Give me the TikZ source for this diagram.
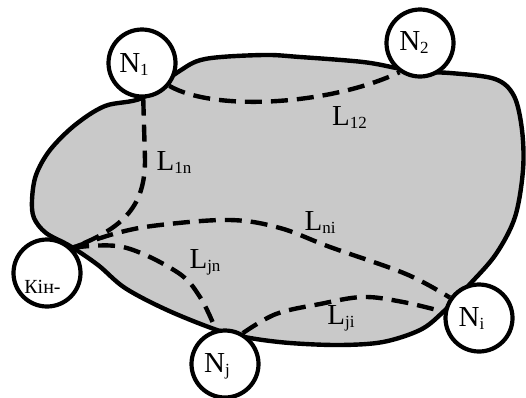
\documentclass[tikz,border=0pt]{standalone}
\usepackage{fontspec}
\setmainfont{Liberation Serif}
\newcommand{\sbs}[1]{\raisebox{-0.12em}{\fontsize{17}{17}\selectfont #1}}
\tikzset{
  nodecirc/.style={circle, draw=black, line width=4.2pt, fill=white, minimum size=67pt, inner sep=0pt},
  lbl/.style={anchor=base, inner sep=0pt, font=\fontsize{29}{29}\selectfont},
  conn/.style={line width=4.4pt, dash pattern=on 17pt off 9pt},
  region/.style={line width=4.4pt, fill=black!21, draw=black}
}
\begin{document}
\begin{tikzpicture}[x=1pt,y=-1pt]
\useasboundingbox (0,0) rectangle (526,397);
% region
\draw[region] plot[smooth cycle, tension=0.55] coordinates {
 (142,98) (105,106) (75,125) (50,150) (36,175) (32,200) (34,218) (46,233) (70,246)
 (98,265) (125,288) (167,310) (217,330) (250,338) (290,343) (340,345) (383,342)
 (420,330) (442,313) (470,284) (496,254) (515,217) (523,170) (522,130) (514,96)
 (495,79) (450,73) (416,72) (396,68) (363,62) (300,57) (263,55) (205,59) (178,72)};
% circles
\node[nodecirc] (N1) at (142,63) {};
\node[nodecirc] (N2) at (420,43) {};
\node[nodecirc] (K) at (47,273) {};
\node[nodecirc] (Nj) at (225,364) {};
\node[nodecirc] (Ni) at (479,318) {};
% connectors
\draw[conn] (N1.-40) .. controls (215,112) and (330,105) .. (N2.-125);
\draw[conn] (N1.-88) -- (145,160) .. controls (145,205) and (125,228) .. (K.45);
\draw[conn] plot[smooth, tension=0.6] coordinates {(K.45) (117,233) (160,225) (230,220) (280,228) (330,247) (406,274) (Ni.145)};
\draw[conn] plot[smooth, tension=0.6] coordinates {(K.45) (123,247) (177,272) (200,297) (Nj.105)};
\draw[conn] plot[smooth, tension=0.6] coordinates {(Nj.60) (276,314) (320,304) (363,297) (403,302) (Ni.170)};
% labels
\node[lbl] (tN1) at (134,72.5) {N\sbs{1}};
\node[lbl] (tN2) at (414,50) {N\sbs{2}};
\node[lbl] (tNj) at (217,372) {N\sbs{j}};
\node[lbl] (tNi) at (471.5,326) {N\sbs{i}};
\node[lbl, font=\fontsize{20}{20}\selectfont] (tK) at (42.5,293.5) {Кін-};
\node[lbl] (tL1n) at (174,170) {L\sbs{1n}};
\node[lbl] (tL12) at (349.5,125) {L\sbs{12}};
\node[lbl] (tLni) at (320,230) {L\sbs{ni}};
\node[lbl] (tLji) at (341,324) {L\sbs{ji}};
\node[lbl] (tLjn) at (205,268) {L\sbs{jn}};
\end{tikzpicture}
\end{document}
